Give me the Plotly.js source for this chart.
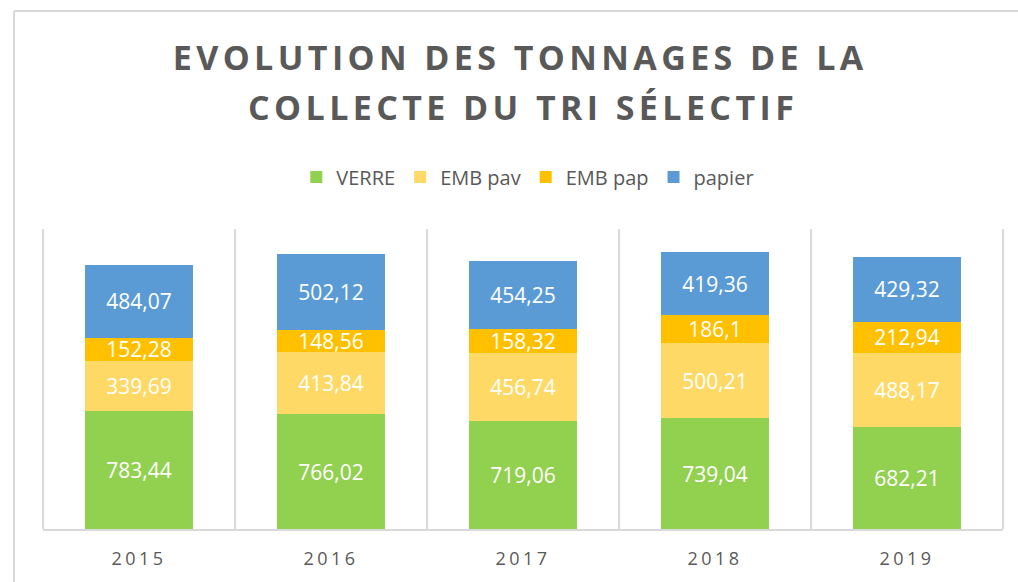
<!DOCTYPE html>
<html>
<head>
<meta charset="utf-8">
<script src="https://cdn.plot.ly/plotly-3.0.1.min.js"></script>
<style>
  html, body { margin: 0; padding: 0; background: #fff; }
  #chart { width: 1018px; height: 582px; }
  .gtitle, .annotation-text { letter-spacing: 4.4px; }
  .xtick text { letter-spacing: 3.5px; }
</style>
</head>
<body>
<div id="chart"></div>
<script>
const years = ['2015', '2016', '2017', '2018', '2019'];
const verre = [783.44, 766.02, 719.06, 739.04, 682.21];
const embPav = [339.69, 413.84, 456.74, 500.21, 488.17];
const embPap = [152.28, 148.56, 158.32, 186.1, 212.94];
const papier = [484.07, 502.12, 454.25, 419.36, 429.32];

const seriesNames = ['VERRE', 'EMB pav', 'EMB pap', 'papier'];
const seriesColors = ['#92d050', '#ffd966', '#ffc000', '#5b9bd5'];
const seriesValues = [verre, embPav, embPap, papier];
const titleLines = ['EVOLUTION DES TONNAGES DE LA', 'COLLECTE DU TRI SÉLECTIF'];

const fr = v => String(v).replace('.', ',');

const traces = seriesValues.map((vals, i) => ({
  type: 'bar',
  name: seriesNames[i],
  x: years,
  y: vals,
  marker: { color: seriesColors[i], line: { width: 0 } },
  text: vals.map(fr),
  textposition: 'inside',
  insidetextanchor: 'middle',
  textangle: 0,
  constraintext: 'none',
  textfont: { family: 'Open Sans, sans-serif', size: 21, color: '#ffffff' },
  hoverinfo: 'skip'
}));

const titleFont = { family: 'Open Sans, sans-serif', size: 34, color: '#595959', weight: 700 };

const layout = {
  width: 1018,
  height: 582,
  margin: { l: 43, r: 15, t: 229, b: 53 },
  paper_bgcolor: '#ffffff',
  plot_bgcolor: '#ffffff',
  barmode: 'stack',
  bargap: 0.4375,
  uniformtext: { mode: 'show', minsize: 21 },
  title: {
    text: titleLines[0],
    font: titleFont,
    x: 0.511,
    xanchor: 'center',
    y: 1 - 58 / 582,
    yanchor: 'middle'
  },
  annotations: [
    {
      text: titleLines[1],
      font: titleFont,
      xref: 'paper', yref: 'paper',
      x: 0.5, xanchor: 'center',
      y: (529 - 107) / 300, yanchor: 'middle',
      showarrow: false
    }
  ],
  showlegend: true,
  legend: {
    orientation: 'h',
    x: 0.505,
    xanchor: 'center',
    y: (529 - 177) / 300,
    yanchor: 'middle',
    font: { family: 'Open Sans, sans-serif', size: 20, color: '#595959' },
    traceorder: 'normal',
    itemwidth: 30
  },
  xaxis: {
    type: 'category',
    tickson: 'boundaries',
    showgrid: true,
    gridcolor: '#d9d9d9',
    gridwidth: 2,
    showline: true,
    linecolor: '#d9d9d9',
    linewidth: 2,
    mirror: false,
    ticks: '',
    ticklabelstandoff: 12,
    tickfont: { family: 'Open Sans, sans-serif', size: 18, color: '#595959' },
    fixedrange: true
  },
  yaxis: {
    range: [0, 2000],
    showgrid: false,
    zeroline: false,
    showticklabels: false,
    showline: false,
    ticks: '',
    fixedrange: true
  },
  shapes: [
    {
      type: 'line', xref: 'paper', yref: 'paper',
      x0: (14 - 43) / 960, x1: 1.1, y0: (529 - 11) / 300, y1: (529 - 11) / 300,
      line: { color: '#d9d9d9', width: 2 }
    },
    {
      type: 'line', xref: 'paper', yref: 'paper',
      x0: (14 - 43) / 960, x1: (14 - 43) / 960, y0: (529 - 11) / 300, y1: -0.3,
      line: { color: '#d9d9d9', width: 2 }
    },
    {
      type: 'line', xref: 'paper', yref: 'paper',
      x0: 0, x1: 0, y0: 0, y1: 1,
      line: { color: '#d9d9d9', width: 2 }
    },
    {
      type: 'line', xref: 'paper', yref: 'paper',
      x0: 1, x1: 1, y0: 0, y1: 1,
      line: { color: '#d9d9d9', width: 2 }
    }
  ]
};

Plotly.newPlot('chart', traces, layout, { displayModeBar: false, staticPlot: true });
</script>
</body>
</html>
